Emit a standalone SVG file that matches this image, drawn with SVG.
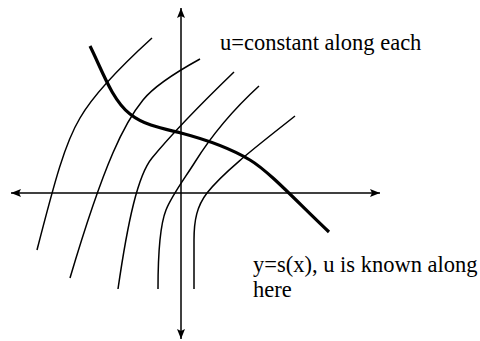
<svg xmlns="http://www.w3.org/2000/svg" width="480" height="341" viewBox="0 0 480 341">
<style>
.axis{fill:none;stroke:#000;stroke-width:1.5}
.char{fill:none;stroke:#000;stroke-width:1.5}
.bound{fill:none;stroke:#000;stroke-width:3.2}
.lbl{font-family:"Liberation Serif","Times New Roman",serif;font-size:22.5px;fill:#000}
</style>
<defs>
<marker id="arr" viewBox="0 0 10 8" refX="10" refY="4" markerWidth="10" markerHeight="8" markerUnits="userSpaceOnUse" orient="auto-start-reverse">
<path d="M0,0 L10,4 L0,8 L2,4 Z" fill="#000"/>
</marker>
</defs>
<rect width="480" height="341" fill="#fff"/>
<g id="axes">
<path class="axis" d="M181,339 L181,8" marker-start="url(#arr)" marker-end="url(#arr)"/>
<path class="axis" d="M11,193 L380,193" marker-start="url(#arr)" marker-end="url(#arr)"/>
</g>
<g id="characteristics">
<path class="char" d="M152,38 C130,58 95,92 80,118 C65,143 55,180 37,250"/>
<path class="char" d="M200,59 C180,70 155,85 143,100 C125,122 105,160 70,278"/>
<path class="char" d="M234,72 C205,100 175,130 152,158 C138,175 128,220 118,289"/>
<path class="char" d="M259,86 C235,108 215,130 195,162 C185,178 172,195 166,210 C160,225 158,260 158,289"/>
<path class="char" d="M295,116 C265,140 225,170 207,193 C197,206 194,220 194,240 L194,289"/>
</g>
<g id="boundary">
<path class="bound" d="M90,46 C102,70 112,100 130,114 C145,126 165,129 181,133 C200,138 230,148 250,160 C270,172 300,205 329,232"/>
</g>
<g id="label-characteristics">
<text class="lbl" x="220" y="50">u=constant along each</text>
</g>
<g id="label-boundary">
<text class="lbl" x="253" y="272">y=s(x), u is known along</text>
<text class="lbl" x="253" y="297">here</text>
</g>
</svg>
